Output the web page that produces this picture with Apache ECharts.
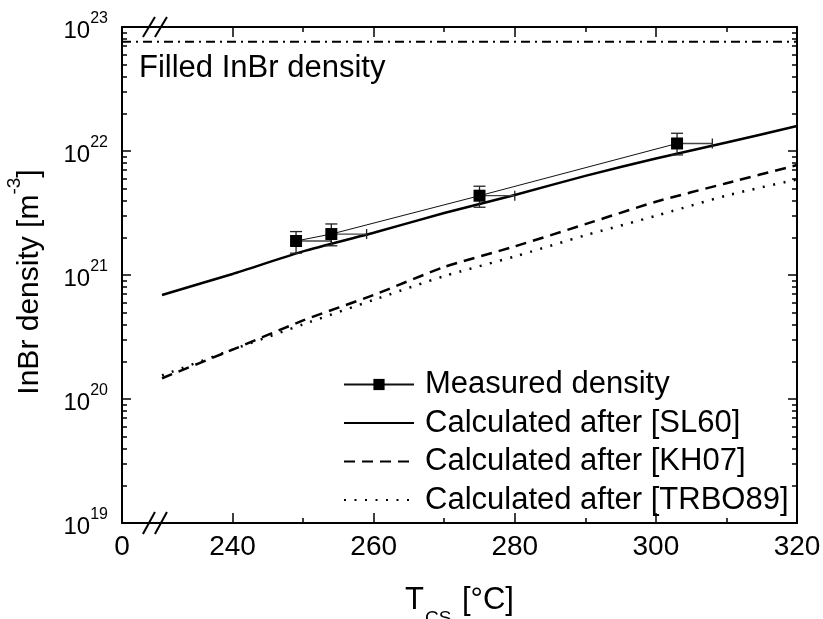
<!DOCTYPE html>
<html>
<head>
<meta charset="utf-8">
<script src="https://cdn.jsdelivr.net/npm/echarts@6/dist/echarts.min.js"></script>
<style>html,body{margin:0;padding:0;background:#fff;}#chart{width:823px;height:619px;}</style>
</head>
<body>
<div id="chart"></div>
<script>
// ---- data ----
const xAxisMin = 224.33;            // left end of broken axis (labelled "0")
const xAxisMax = 320;
const xBreakAt = 229;               // where the "//" break marks sit
const xMajorTicks = [240, 260, 280, 300, 320];
const xMinorTicks = [250, 270, 290, 310];
const xLabelValues = [224.33, 240, 260, 280, 300, 320];
const yAxisMin = 1e19;
const yAxisMax = 1.0001e23;
const yMajorTicks = [1e19, 1e20, 1e21, 1e22, 1e23];
const yMinorTicks = [];
[19, 20, 21, 22].forEach(function (e) { for (let m = 2; m <= 9; m++) yMinorTicks.push(m * Math.pow(10, e)); });

const calcT = [230, 240, 250, 260, 270, 280, 290, 300, 310, 320];
const sl60 = [6.9e20, 1.02e21, 1.55e21, 2.19e21, 3.16e21, 4.42e21, 6.3e21, 8.7e21, 1.17e22, 1.59e22];
const kh07 = [1.47e20, 2.5e20, 4.3e20, 6.9e20, 1.16e21, 1.70e21, 2.57e21, 3.9e21, 5.5e21, 7.7e21];
const trbo89 = [1.55e20, 2.5e20, 4.0e20, 6.3e20, 9.8e20, 1.41e21, 2.09e21, 3.0e21, 4.37e21, 5.9e21];

const measT = [249, 254, 275, 303];
const measN = [1.88e21, 2.14e21, 4.36e21, 1.15e22];
const measLow = [1.50e21, 1.72e21, 3.52e21, 9.3e21];
const measHigh = [2.24e21, 2.58e21, 5.2e21, 1.39e22];
const measTErr = [5, 5, 5, 5];

const filledDensity = 7.6e22;

const FONT = 'Liberation Sans, Arial, Helvetica, sans-serif';

// ---- chart ----
const chart = echarts.init(document.getElementById('chart'), null, { renderer: 'canvas' });

function baseX(pos, major) {
  return {
    type: 'value', position: pos, min: xAxisMin, max: xAxisMax,
    axisLine: { show: major, onZero: false, lineStyle: { color: '#000', width: 2 } },
    axisTick: { show: true, inside: true, length: major ? 10 : 5, lineStyle: { color: '#000', width: 1.5 },
      customValues: major ? xMajorTicks : xMinorTicks },
    axisLabel: { show: false },
    splitLine: { show: false }
  };
}
function baseY(pos, major) {
  return {
    type: 'log', logBase: 10, position: pos, min: yAxisMin, max: yAxisMax,
    axisLine: { show: major, lineStyle: { color: '#000', width: 2 } },
    axisTick: { show: true, inside: true, length: major ? 9 : 5, lineStyle: { color: '#000', width: 1.5 },
      customValues: major ? yMajorTicks : yMinorTicks },
    axisLabel: { show: false },
    splitLine: { show: false }
  };
}

const xBottom = baseX('bottom', true);
xBottom.axisLabel = {
  show: true, customValues: xLabelValues, margin: 10,
  fontSize: 28, color: '#000', fontFamily: FONT,
  formatter: function (v) { return v < 230 ? '0' : String(Math.round(v)); }
};
xBottom.name = '{t|T}{sub|CS}{t| [°C]}';
xBottom.nameLocation = 'middle';
xBottom.nameGap = 62;
xBottom.nameTextStyle = {
  fontFamily: FONT, color: '#000',
  rich: {
    t: { fontSize: 31, lineHeight: 30, verticalAlign: 'top', fontFamily: FONT, color: '#000' },
    sub: { fontSize: 19, lineHeight: 18, verticalAlign: 'top', padding: [24, 2, 0, 1], fontFamily: FONT, color: '#000' }
  }
};

const yLeft = baseY('left', true);
yLeft.axisLabel = {
  show: true, customValues: yMajorTicks, margin: 14, color: '#000', fontFamily: FONT,
  formatter: function (v) { return '{b|10}{s|' + Math.round(Math.log10(v)) + '}'; },
  rich: {
    b: { fontSize: 24, lineHeight: 32, verticalAlign: 'bottom', fontFamily: FONT, color: '#000' },
    s: { fontSize: 16, lineHeight: 14, verticalAlign: 'top', fontFamily: FONT, color: '#000' }
  }
};
yLeft.name = '{t|InBr density [m}{s|-3}{e|]}';
yLeft.nameLocation = 'middle';
yLeft.nameGap = 77;
yLeft.nameTextStyle = {
  fontFamily: FONT, color: '#000',
  rich: {
    t: { fontSize: 30, lineHeight: 40, verticalAlign: 'bottom', fontFamily: FONT, color: '#000' },
    e: { fontSize: 30, lineHeight: 40, verticalAlign: 'bottom', padding: [0, 14, 0, 0], fontFamily: FONT, color: '#000' },
    s: { fontSize: 19, lineHeight: 19, verticalAlign: 'top', fontFamily: FONT, color: '#000' }
  }
};

const hiddenSym = { symbol: 'circle', symbolSize: 0, showSymbol: false };

const option = {
  animation: false,
  backgroundColor: '#fff',
  textStyle: { fontFamily: FONT },
  grid: { left: 122, right: 26, top: 27, bottom: 96, containLabel: false, outerBoundsMode: 'none' },
  title: {
    text: 'Filled InBr density', left: 139, top: 53, padding: 0,
    textStyle: { fontSize: 31, fontWeight: 'normal', color: '#000', fontFamily: FONT }
  },
  legend: {
    orient: 'vertical', left: 343, top: 369, itemWidth: 70, itemHeight: 14, itemGap: 7.5, padding: 0,
    selectedMode: false,
    data: ['Measured density', 'Calculated after [SL60]', 'Calculated after [KH07]', 'Calculated after [TRBO89]'],
    textStyle: { fontSize: 31, lineHeight: 30, color: '#000', fontFamily: FONT, padding: [0, 0, 0, 6] }
  },
  xAxis: [xBottom, baseX('bottom', false), baseX('top', true), baseX('top', false)],
  yAxis: [yLeft, baseY('left', false), baseY('right', true), baseY('right', false)],
  series: [
    Object.assign({
      name: 'Calculated after [SL60]', type: 'line', xAxisIndex: 0, yAxisIndex: 0,
      data: calcT.map(function (t, i) { return [t, sl60[i]]; }),
      smooth: 0.2,
      lineStyle: { color: '#000', width: 2.5 }, itemStyle: { color: 'rgba(0,0,0,0)', borderWidth: 0 }, z: 3
    }, hiddenSym),
    Object.assign({
      name: 'Calculated after [KH07]', type: 'line', xAxisIndex: 0, yAxisIndex: 0,
      data: calcT.map(function (t, i) { return [t, kh07[i]]; }),
      smooth: 0.2,
      lineStyle: { color: '#000', width: 2.5, type: [11, 7] }, itemStyle: { color: 'rgba(0,0,0,0)', borderWidth: 0 }, z: 3
    }, hiddenSym),
    Object.assign({
      name: 'Calculated after [TRBO89]', type: 'line', xAxisIndex: 0, yAxisIndex: 0,
      data: calcT.map(function (t, i) { return [t, trbo89[i]]; }),
      smooth: 0.2,
      lineStyle: { color: '#000', width: 2.5, type: [2, 8.5] }, itemStyle: { color: 'rgba(0,0,0,0)', borderWidth: 0 }, z: 3
    }, hiddenSym),
    {
      name: 'Filled', type: 'line', xAxisIndex: 0, yAxisIndex: 0, silent: true,
      data: [[xAxisMin, filledDensity], [xAxisMax, filledDensity]],
      showSymbol: false, symbol: 'none',
      lineStyle: { color: '#000', width: 2, type: [9, 5, 2, 5] }, z: 3
    },
    {
      name: 'errors', type: 'custom', xAxisIndex: 0, yAxisIndex: 0, silent: true, z: 4,
      data: measT.map(function (t, i) { return [t, measN[i], measLow[i], measHigh[i], measTErr[i]]; }),
      encode: { x: 0, y: [1, 2, 3] },
      renderItem: function (params, api) {
        const t = api.value(0), n = api.value(1), lo = api.value(2), hi = api.value(3), xe = api.value(4);
        const c = api.coord([t, n]);
        const pLo = api.coord([t, lo]);
        const pHi = api.coord([t, hi]);
        const pR = api.coord([t + xe, n]);
        const cw = 6, ch = 5;
        const st = { stroke: '#222', lineWidth: 1.3 };
        return {
          type: 'group',
          children: [
            { type: 'line', shape: { x1: c[0], y1: pHi[1], x2: c[0], y2: pLo[1] }, style: st },
            { type: 'line', shape: { x1: c[0] - cw, y1: pHi[1], x2: c[0] + cw, y2: pHi[1] }, style: st },
            { type: 'line', shape: { x1: c[0] - cw, y1: pLo[1], x2: c[0] + cw, y2: pLo[1] }, style: st },
            { type: 'line', shape: { x1: c[0], y1: c[1], x2: pR[0], y2: c[1] }, style: { stroke: '#444', lineWidth: 1.3 } },
            { type: 'line', shape: { x1: pR[0], y1: c[1] - ch, x2: pR[0], y2: c[1] + ch }, style: st }
          ]
        };
      }
    },
    {
      name: 'Measured density', type: 'line', xAxisIndex: 0, yAxisIndex: 0,
      data: measT.map(function (t, i) { return [t, measN[i]]; }),
      symbol: 'rect', symbolSize: 12, showSymbol: true,
      lineStyle: { color: '#111', width: 1 }, itemStyle: { color: '#000' }, z: 5
    }
  ]
};
chart.setOption(option);

// axis-break "//" marks, placed via the axis scale
(function () {
  const pb = chart.convertToPixel({ xAxisIndex: 0, yAxisIndex: 0 }, [xBreakAt, yAxisMin]);
  const pt = chart.convertToPixel({ xAxisIndex: 0, yAxisIndex: 0 }, [xBreakAt, yAxisMax]);
  const els = [];
  [pb, pt].forEach(function (p, k) {
    const up = k === 0 ? 11 : 10, dn = k === 0 ? 11 : 10;
    [-6, 6].forEach(function (dx) {
      els.push({ type: 'line', silent: true, z: 100,
        shape: { x1: p[0] + dx - 6, y1: p[1] + dn, x2: p[0] + dx + 6, y2: p[1] - up },
        style: { stroke: '#000', lineWidth: 2 } });
    });
  });
  chart.setOption({ graphic: els });
})();
</script>
</body>
</html>
